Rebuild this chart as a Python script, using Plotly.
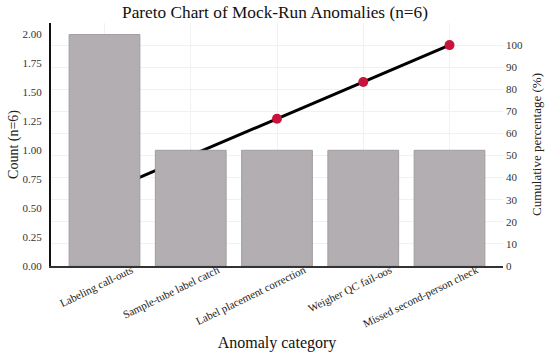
import plotly.graph_objects as go

categories = ["Labeling call-outs", "Sample-tube label catch", "Label placement correction",
              "Weigher QC fail-oos", "Missed second-person check"]
counts = [2, 1, 1, 1, 1]
cumulative_pct = [33.33, 50.0, 66.67, 83.33, 100.0]

FONT = "Liberation Serif, Times New Roman, serif"

fig = go.Figure()
# cumulative line on primary (right-side) axis so it is drawn beneath the bars
fig.add_trace(go.Scatter(
    x=categories, y=cumulative_pct, yaxis="y", mode="lines+markers",
    line=dict(color="black", width=3),
    marker=dict(color="#c8143c", size=10),
    showlegend=False, cliponaxis=False,
))
fig.add_trace(go.Bar(
    x=categories, y=counts, yaxis="y2",
    marker=dict(color="#b2aeb1", line=dict(color="#a09ca0", width=1)),
    width=0.82, showlegend=False,
))

fig.update_layout(
    width=550, height=359,
    margin=dict(l=51, r=47, t=23, b=93, autoexpand=False),
    paper_bgcolor="white", plot_bgcolor="white",
    font=dict(family=FONT, color="#222"),
    title=dict(text="Pareto Chart of Mock-Run Anomalies (n=6)", x=0.5, xanchor="center",
               y=0.966, yanchor="middle", font=dict(size=17.3, color="#111")),
    xaxis=dict(
        type="category", range=[-0.62, 4.62], automargin=False,
        showline=True, linecolor="#333", linewidth=1.5,
        showgrid=True, gridcolor="#f1f1f1", gridwidth=1,
        tickangle=-26, ticklabelshift=27, ticklabelstandoff=-8,
        tickfont=dict(size=11, color="#222"),
        title=dict(text="Anomaly category", font=dict(size=16, color="#111"), standoff=8),
        ticks="",
    ),
    yaxis=dict(
        side="right", range=[0, 110], tickmode="array", automargin=False,
        tickvals=[0, 10, 20, 30, 40, 50, 60, 70, 80, 90, 100],
        showline=False, showgrid=True, gridcolor="#f1f1f1", zeroline=False,
        tickfont=dict(size=11, color="#333"), ticks="", ticklabelstandoff=2,
        title=dict(text="Cumulative percentage (%)", font=dict(size=13, color="#222"), standoff=9),
    ),
    yaxis2=dict(
        side="left", overlaying="y", range=[0, 2.1], dtick=0.25, tickformat=".2f", automargin=False,
        showline=True, linecolor="#111", linewidth=2, showgrid=False, zeroline=False,
        tickfont=dict(size=11, color="#333"), ticks="", ticklabelstandoff=5,
        title=dict(text="Count (n=6)", font=dict(size=14, color="#222"), standoff=1),
    ),
)

fig.write_html("out.html", config={"displayModeBar": False},
               post_script="document.body.style.margin='0';")
